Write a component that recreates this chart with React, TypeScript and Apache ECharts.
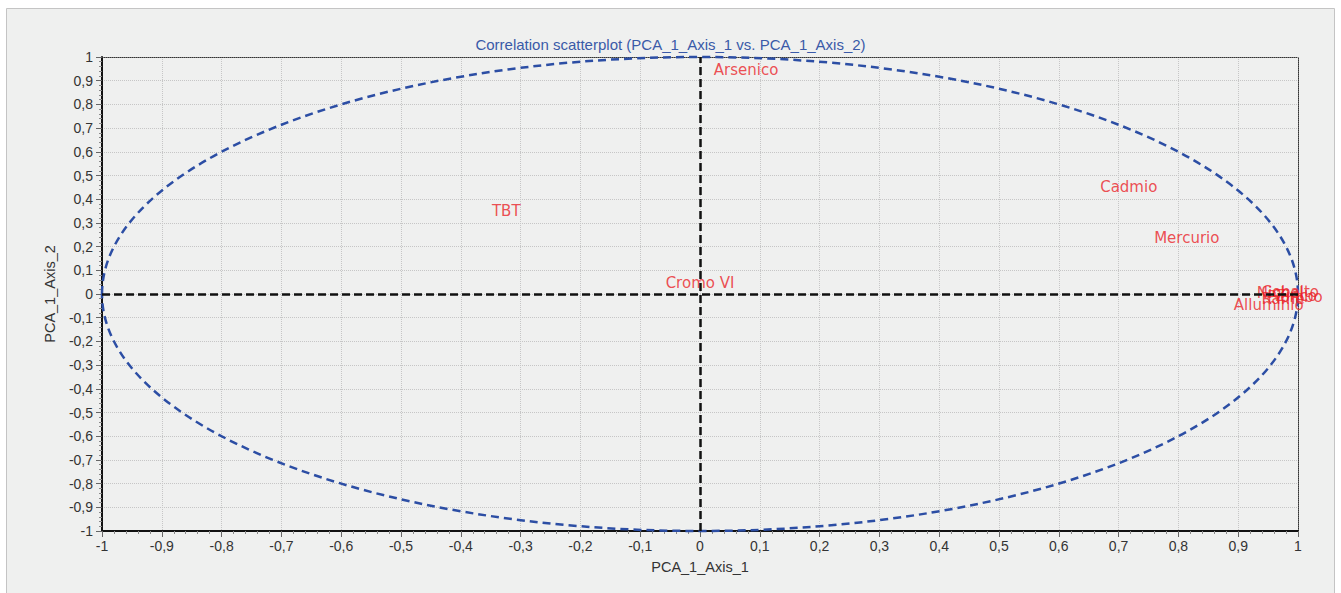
import React, { useEffect, useRef } from 'react';
import * as echarts from 'echarts';

const variables = ['Arsenico', 'Cadmio', 'Mercurio', 'TBT', 'Cromo VI', 'Nichel', 'Cobalto', 'Zinco', 'Piombo', 'Rame', 'Alluminio'];
const axis1 = [0.077, 0.717, 0.814, -0.324, 0.0, 0.97, 0.987, 0.997, 0.995, 0.975, 0.951];
const axis2 = [0.945, 0.451, 0.236, 0.35, 0.046, 0.004, 0.008, -0.008, -0.013, -0.021, -0.046];
// correlation circle: center x, center y, radius
const circle = [[0, 0, 1]];
const axisMin = -1;
const axisMax = 1;
const axisStep = 0.1;

const fmt = (v: number) => String(Math.round(v * 10) / 10).replace('.', ',');

export default function App() {
  const ref = useRef<HTMLDivElement>(null);
  useEffect(() => {
    document.body.style.margin = '0';
    const chart = echarts.init(ref.current!, undefined, { renderer: 'svg' });
    const labelFont = 'Liberation Sans, Arial, sans-serif';
    const valueAxis = (position: string, name: string) => ({
      type: 'value',
      position,
      min: axisMin,
      max: axisMax,
      interval: axisStep,
      name,
      nameLocation: 'middle',
      nameGap: position === 'bottom' ? 28 : 42,
      nameTextStyle: { color: '#333', fontSize: 14.5, fontFamily: labelFont },
      axisLine: { onZero: false, lineStyle: { color: '#111', width: 2 } },
      axisTick: { show: true, length: 6, lineStyle: { color: '#666' } },
      minorTick: { show: true, splitNumber: 5, length: 3, lineStyle: { color: '#888' } },
      axisLabel: { formatter: fmt, color: '#333', fontSize: 14, fontFamily: labelFont, margin: position === 'bottom' ? 8 : 9 },
      splitLine: { show: true, lineStyle: { color: '#c6c6c6', type: 'dotted', width: 1 } },
    });
    const borderAxis = (position: string) => ({
      type: 'value',
      position,
      min: axisMin,
      max: axisMax,
      interval: axisStep,
      axisLine: { onZero: false, lineStyle: { color: '#333', width: 1, type: 'dotted' } },
      axisTick: { show: false },
      axisLabel: { show: false },
      splitLine: { show: false },
    });
    chart.setOption({
      animation: false,
      backgroundColor: '#ffffff',
      title: {
        text: 'Correlation scatterplot (PCA_1_Axis_1 vs. PCA_1_Axis_2)',
        left: 'center',
        top: 32,
        textStyle: { color: '#3a5aa8', fontSize: 15, fontWeight: 'normal', fontFamily: labelFont },
      },
      graphic: [
        {
          type: 'rect',
          x: 6.5,
          y: 8.5,
          z: -10,
          silent: true,
          shape: { width: 1328, height: 600 },
          style: { fill: '#eff0ef', stroke: '#c4c4c4', lineWidth: 1 },
        },
      ],
      grid: { left: 102, right: 43, top: 57, bottom: 62 },
      xAxis: [valueAxis('bottom', 'PCA_1_Axis_1'), borderAxis('top')],
      yAxis: [valueAxis('left', 'PCA_1_Axis_2'), borderAxis('right')],
      series: [
        {
          type: 'custom',
          data: circle,
          silent: true,
          z: 3,
          renderItem: (params: any, api: any) => {
            const c = api.coord([api.value(0), api.value(1)]);
            const r = api.value(2);
            const p = api.coord([api.value(0) + r, api.value(1) + r]);
            const rx = p[0] - c[0];
            const ry = c[1] - p[1];
            return {
              type: 'ellipse',
              shape: { cx: c[0], cy: c[1], rx, ry },
              style: { fill: 'none', stroke: '#2c4ea4', lineWidth: 2.5, lineDash: [8, 5] },
            };
          },
        },
        {
          type: 'scatter',
          z: 4,
          symbolSize: 1,
          itemStyle: { color: 'rgba(0,0,0,0)' },
          data: variables.map((n, i) => ({ name: n, value: [axis1[i], axis2[i]] })),
          label: {
            show: true,
            position: 'inside',
            formatter: (p: any) => p.name,
            color: '#ea2429',
            fontSize: 15,
            fontFamily: 'DejaVu Sans, Verdana, sans-serif',
          },
          labelLayout: { hideOverlap: false },
          markLine: {
            silent: true,
            symbol: ['none', 'none'],
            label: { show: false },
            lineStyle: { color: '#111', width: 2.5, type: [8, 4] },
            data: [{ xAxis: 0 }, { yAxis: 0 }],
          },
        },
      ],
    });
    return () => chart.dispose();
  }, []);
  return <div ref={ref} style={{ width: 1341, height: 593 }} />;
}
